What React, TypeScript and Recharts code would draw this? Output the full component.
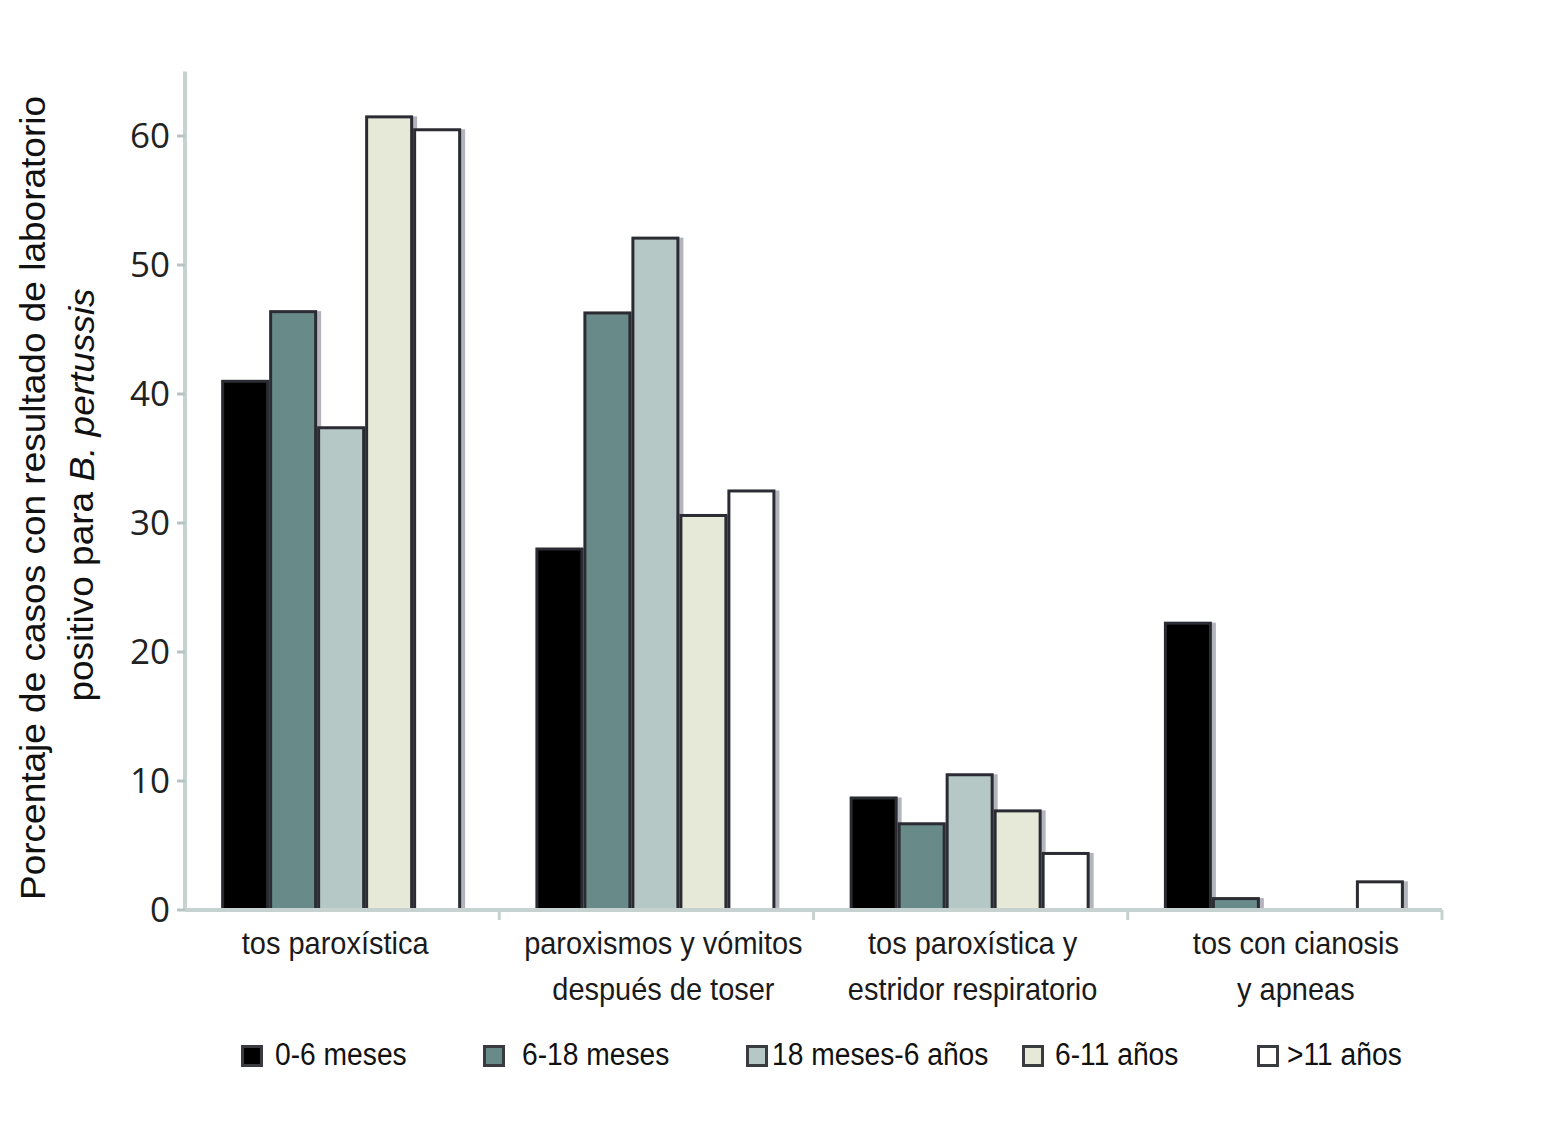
import { Bar, BarChart, XAxis, YAxis } from 'recharts';

const categories = [
  'tos paroxística',
  'paroxismos y vómitos\ndespués de toser',
  'tos paroxística y\nestridor respiratorio',
  'tos con cianosis\ny apneas',
];

const seriesNames = ['0-6 meses', '6-18 meses', '18 meses-6 años', '6-11 años', '>11 años'];
const months0to6 = [41.1, 28.1, 8.8, 22.35];
const months6to18 = [46.5, 46.4, 6.8, 1.0];
const months18to6y = [37.5, 52.2, 10.6, 0];
const years6to11 = [61.6, 30.7, 7.8, 0];
const yearsOver11 = [60.6, 32.6, 4.5, 2.3];
const yTicks = [0, 10, 20, 30, 40, 50, 60];

const seriesValues = [months0to6, months6to18, months18to6y, years6to11, yearsOver11];
const seriesColors = ['#000000', '#688a88', '#b6c8c6', '#e6e9d7', '#ffffff'];

const data = categories.map((category, i) => {
  const row: Record<string, string | number> = { category };
  seriesNames.forEach((name, s) => {
    row[name] = seriesValues[s][i];
  });
  return row;
});

// layout (svg coords, page offset 8px)
const W = 1544;
const H = 1113;
const PLOT_LEFT = 177;
const PLOT_RIGHT = 1434;
const PLOT_TOP = 63.5;
const PLOT_BOTTOM = 902;
const HALF_BAND = (PLOT_RIGHT - PLOT_LEFT) / categories.length / 2;
// the original labels are not exactly centred under their groups
const labelNudge = [-7, 7, 2, 11];

const SANS = '"Liberation Sans", Arial, sans-serif';
const AXIS_COLOR = '#c5d2d0';

// legend swatch x / text x in page coords
const legendLayout = [
  [241, 275],
  [483, 522],
  [746, 772],
  [1022, 1055],
  [1257, 1287],
];

function CategoryTick(props: any) {
  const { x, y, payload, index } = props;
  const lines = String(payload.value).split('\n');
  const cx = x + (labelNudge[index] ?? 0);
  return (
    <g>
      <line x1={x + HALF_BAND} x2={x + HALF_BAND} y1={y} y2={y + 10} stroke={AXIS_COLOR} strokeWidth={3} />
      {lines.map((line, i) => (
        <text
          key={i}
          transform={`translate(${cx} ${y + 44 + i * 46}) scale(0.92 1)`}
          textAnchor="middle"
          fontFamily={SANS}
          fontSize={31.5}
          fill="#1a1a1a"
        >
          {line}
        </text>
      ))}
    </g>
  );
}

function OutlinedBar(props: any) {
  const { x, y, width, height, fill } = props;
  if (!height || height <= 0) return null;
  return (
    <g>
      <rect x={x + 2} y={y + 1} width={width + 2} height={height - 1} fill="#b3b4bc" />
      <rect x={x + 1.5} y={y + 1.5} width={width - 3} height={height - 1.5} fill={fill} stroke="#2b2c33" strokeWidth={3} />
    </g>
  );
}

function AxisTitle() {
  const cy = 490;
  return (
    <g fontFamily={SANS} fontSize={37} fill="#111">
      <text transform={`translate(25 ${cy}) rotate(-90) scale(1 0.97)`} textAnchor="middle" dominantBaseline="central">
        Porcentaje de casos con resultado de laboratorio
      </text>
      <text transform={`translate(73 ${cy - 3}) rotate(-90) scale(1 0.97)`} textAnchor="middle" dominantBaseline="central">
        positivo para <tspan fontStyle="italic">B. pertussis</tspan>
      </text>
    </g>
  );
}

export default function App() {
  return (
    <div style={{ position: 'relative', width: W, height: H, background: '#fff' }}>
      <BarChart
        width={W}
        height={H}
        data={data}
        margin={{ top: PLOT_TOP, right: W - PLOT_RIGHT, left: 0, bottom: 0 }}
        barCategoryGap="11.5%"
        barGap={0}
      >
        <XAxis
          dataKey="category"
          height={H - PLOT_BOTTOM}
          tick={<CategoryTick />}
          tickLine={false}
          tickSize={0}
          tickMargin={0}
          interval={0}
          axisLine={{ stroke: AXIS_COLOR, strokeWidth: 4 }}
        />
        <YAxis
          width={PLOT_LEFT}
          domain={[0, 65]}
          ticks={yTicks}
          allowDataOverflow
          tickSize={8}
          tickMargin={7}
          tickLine={{ stroke: '#b8c4c2', strokeWidth: 3 }}
          axisLine={{ stroke: AXIS_COLOR, strokeWidth: 4 }}
          tick={{ fill: '#222', fontSize: 35, fontFamily: '"Open Sans", sans-serif' }}
          label={<AxisTitle />}
        />
        {seriesNames.map((name, s) => (
          <Bar key={name} dataKey={name} fill={seriesColors[s]} shape={<OutlinedBar />} isAnimationActive={false} />
        ))}
      </BarChart>
      {seriesNames.map((name, s) => (
        <div key={name}>
          <div
            style={{
              position: 'absolute',
              left: legendLayout[s][0] - 8,
              top: 1045 - 8,
              width: 22,
              height: 22,
              boxSizing: 'border-box',
              background: seriesColors[s],
              border: '3px solid #3a3b40',
            }}
          />
          <div
            style={{
              position: 'absolute',
              left: legendLayout[s][1] - 8,
              top: 1035 - 8,
              fontFamily: SANS,
              fontSize: 31,
              lineHeight: '40px',
              color: '#111',
              whiteSpace: 'nowrap',
              transform: 'scaleX(0.91)',
              transformOrigin: 'left center',
            }}
          >
            {name}
          </div>
        </div>
      ))}
    </div>
  );
}
